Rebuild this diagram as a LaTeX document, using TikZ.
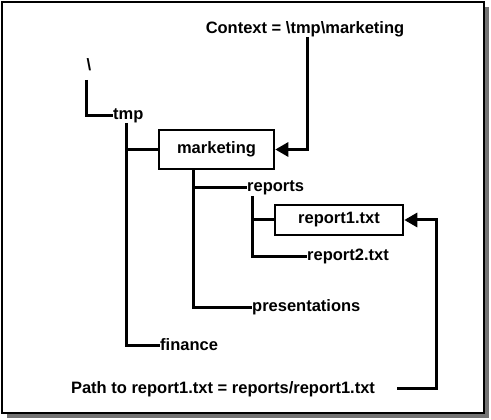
\documentclass[tikz,border=0pt]{standalone}
\usepackage{fontspec}
\setmainfont{Liberation Sans}
\usetikzlibrary{arrows.meta}
\begin{document}
\begin{tikzpicture}[x=1pt,y=-1pt,
  lbl/.style={font=\fontsize{16.5}{18}\selectfont\bfseries, inner sep=0pt},
  lblw/.style={lbl, anchor=west},
  fbox/.style={lbl, draw, line width=2.6pt, fill=white},
  conn/.style={line width=3pt},
  arr/.style={conn, -{Triangle[length=13pt,width=14pt]}}]
\useasboundingbox (0,0) rectangle (491,420);
\fill[black!55] (7,7) rectangle (489,418);
\draw[line width=2.8pt, fill=white] (2,2) rectangle (484,413);
% nodes
\node[lbl] (ctx) at (305,29) {Context = \textbackslash tmp\textbackslash marketing};
\node[lbl] (root) at (89,65) {\textbackslash};
\node[lblw] (tmp) at (113,116) {tmp};
\node[fbox, minimum width=115pt, minimum height=39pt] (mkt) at (216.5,149.5) {marketing};
\node[lblw] (rep) at (247,188) {reports};
\node[fbox, minimum width=128pt, minimum height=30pt] (r1) at (339,220) {report1.txt};
\node[lblw] (r2) at (307,256) {report2.txt};
\node[lblw] (pres) at (252,307) {presentations};
\node[lblw] (fin) at (160,345) {finance};
\node[lbl] (path) at (223,389) {Path to report1.txt = reports/report1.txt};
% joints
\coordinate (rootdn) at (86,80);
\coordinate (tmpdn) at (126,123);
\coordinate (mktdn) at (193,169);
\coordinate (repdn) at (252,196);
\coordinate (ctxdn) at (307,37);
\coordinate (pathend) at (397,388);
\coordinate (pathcorner) at (436,388);
% connectors
\draw[conn] (rootdn) |- (tmp.west);
\draw[conn] (tmpdn) |- (fin.west);
\draw[conn] (tmpdn |- mkt.west) -- (mkt.west);
\draw[conn] (mktdn) |- (pres.west);
\draw[conn] (mktdn |- rep.west) -- (rep.west);
\draw[conn] (repdn) |- (r2.west);
\draw[conn] (repdn |- r1.west) -- (r1.west);
\draw[arr] (ctxdn) |- (mkt.east);
\draw[arr] (pathend) -- (pathcorner) |- (r1.east);
\end{tikzpicture}
\end{document}
